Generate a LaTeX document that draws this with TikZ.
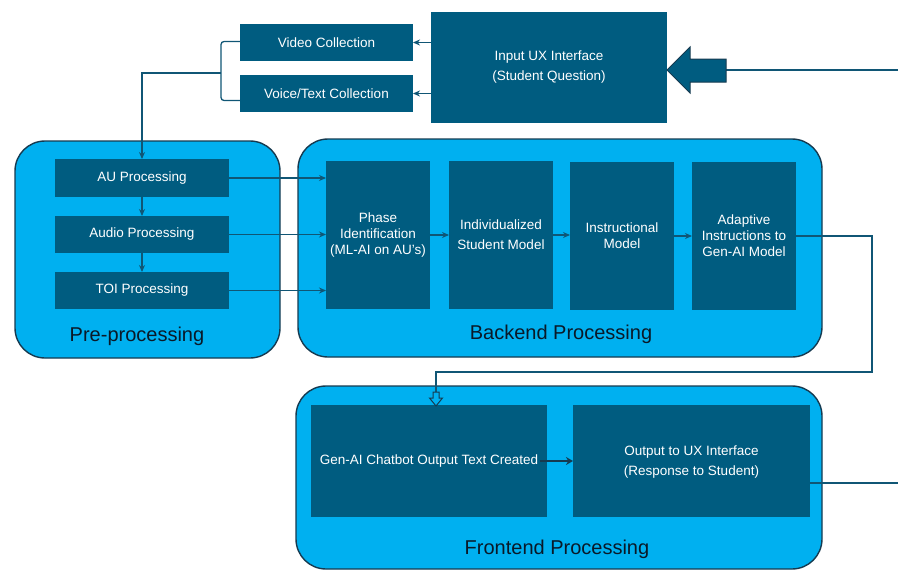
\documentclass[tikz,border=0pt]{standalone}
\usepackage{fontspec}
\setmainfont{Liberation Sans}
\usetikzlibrary{arrows.meta,calc}
\definecolor{boxc}{RGB}{0,92,128}
\definecolor{lightc}{RGB}{0,176,240}
\definecolor{linec}{RGB}{16,86,117}
\definecolor{outc}{RGB}{22,58,80}
\definecolor{labc}{RGB}{10,25,40}
\tikzset{
  dbox/.style={fill=boxc, draw=none, text=white, font=\fontsize{13.5}{20}\selectfont, align=center, inner sep=0pt, outer sep=0pt},
  cont/.style={fill=lightc, draw=outc, line width=1.4pt, rounded corners=30pt},
  glab/.style={text=labc, font=\fontsize{20}{24}\selectfont, inner sep=0pt},
  conn/.style={draw=linec, line width=1.3pt, -{Stealth[length=7pt,width=6pt]}},
  plain/.style={draw=linec, line width=1.3pt},
}
\begin{document}
\begin{tikzpicture}[x=1pt,y=-1pt]
\useasboundingbox (0,0) rectangle (898,570);
% containers
\draw[cont] (15,141) rectangle (280,358);
\draw[cont] (298,139) rectangle (822,357);
\draw[cont] (296,386) rectangle (822,569);
\node[glab] (lpre) at (137,336) {Pre-processing};
\node[glab] (lback) at (561,334) {Backend Processing};
\node[glab] (lfront) at (557,549) {Frontend Processing};
% top
\node[dbox, minimum width=173pt, minimum height=37pt] (video) at (326.5,42.5) {Video Collection};
\node[dbox, minimum width=173pt, minimum height=37pt] (voice) at (326.5,93.5) {Voice/Text Collection};
\node[dbox, minimum width=236pt, minimum height=111pt] (input) at (549,67.5) {Input UX Interface\\(Student Question)};
% pre-processing
\node[dbox, minimum width=174pt, minimum height=38pt] (au) at (142,178) {AU Processing};
\node[dbox, minimum width=174pt, minimum height=37pt] (audio) at (142,234.5) {Audio Processing};
\node[dbox, minimum width=174pt, minimum height=37pt] (toi) at (142,290.5) {TOI Processing};
% backend
\node[dbox, minimum width=104pt, minimum height=148pt, font=\fontsize{13.5}{16}\selectfont] (phase) at (378,235) {Phase\\Identification\\(ML-AI on AU’s)};
\node[dbox, minimum width=104pt, minimum height=148pt] (indiv) at (501,235) {Individualized\\Student Model};
\node[dbox, minimum width=104pt, minimum height=148pt, font=\fontsize{13.5}{16}\selectfont] (instr) at (622,236) {Instructional\\Model};
\node[dbox, minimum width=104pt, minimum height=148pt, font=\fontsize{13.5}{16}\selectfont] (adapt) at (744,236) {Adaptive\\Instructions to\\Gen-AI Model};
% frontend
\node[dbox, minimum width=236pt, minimum height=112pt] (genai) at (429,461) {Gen-AI Chatbot Output Text Created};
\node[dbox, minimum width=237pt, minimum height=112pt, text depth=0pt] (output) at (691.5,461) {Output to UX Interface\\(Response to Student)};
% connectors top
\draw[conn] (input.west |- video.east) -- (video.east);
\draw[conn] (input.west |- voice.east) -- (voice.east);
\coordinate (brk) at (221,73);
\draw[plain, rounded corners=3pt] (240,41.5) -- (221,41.5) -- (221,100.5) -- (240,100.5);
\draw[conn] (brk) -- (142,73) -- (au.north);
\draw[conn] (au.south) -- (audio.north);
\draw[conn] (audio.south) -- (toi.north);
\draw[conn] (au.east) -- (au.east -| phase.west);
\draw[conn] (audio.east) -- (audio.east -| phase.west);
\draw[conn] (toi.east) -- (toi.east -| phase.west);
\draw[conn] (phase.east) -- (phase.east -| indiv.west);
\draw[conn] (indiv.east) -- (indiv.east -| instr.west);
\draw[conn] (instr.east) -- (instr.east -| adapt.west);
% adaptive to gen-ai
\coordinate (gtop) at (436,392);
\draw[plain] (adapt.east) -- (872,236) -- (872,372) -- (436,372) -- (gtop);
\draw[fill=lightc, draw=outc, line width=1pt] (433,392) -- (439,392) -- (439,398) -- (442.5,398) -- (436,406) -- (429.5,398) -- (433,398) -- cycle;
% gen-ai to output
\draw[draw=outc, line width=2.6pt, -{Stealth[length=7pt,width=8pt]}] ([xshift=-7pt]genai.east) -- (output.west);
% feedback
\coordinate (oe) at (898,483);
\draw[plain] (output.east |- oe) -- (oe);
\coordinate (re) at (898,70);
\draw[plain] (re) -- (726,70);
\draw[fill=boxc, draw=outc, line width=1pt] (667,70) -- (690,47) -- (690,59) -- (726,59) -- (726,82) -- (690,82) -- (690,93) -- cycle;
\end{tikzpicture}
\end{document}
